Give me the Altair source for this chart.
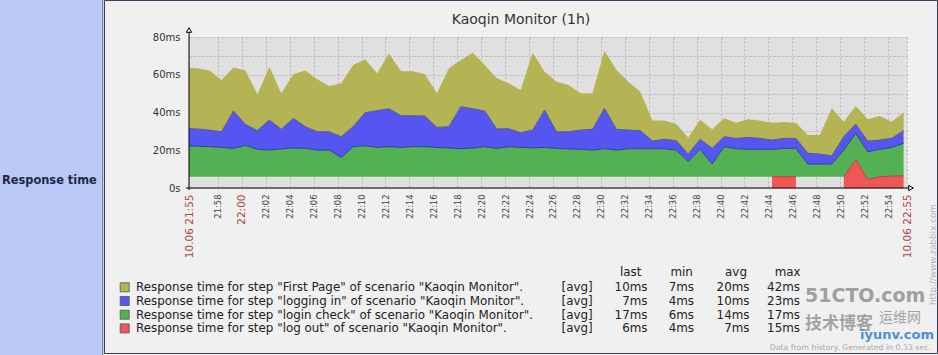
import altair as alt
import pandas as pd

# ---------------- data ----------------
start_time = "2013-10-06 21:55:18"   # first sample (one sample per minute)

first_page = [32.4, 32.1, 31.5, 27.4, 23.1, 28.5, 19.2, 28.3, 19.1, 23.3,
              29.7, 27.8, 24.2, 28.3, 32.7, 28.3, 19.8, 29.3, 23.5, 23.5,
              22.1, 18.1, 30.9, 24.7, 29.7, 24.4, 26.8, 24.1, 22.6, 41.0,
              20.3, 26.5, 24.8, 19.5, 19.1, 30.6, 31.4, 25.6, 20.6, 10.8,
              9.9, 8.8, 8.8, 10.2, 10.1, 9.7, 8.3, 9.6, 9.4, 9.2,
              8.7, 8.3, 9.7, 10.1, 25.2, 7.9, 9.5, 11.5, 12.7, 8.8, 9.5]
logging_in = [9.1, 9.2, 8.8, 8.3, 19.8, 11.1, 9.9, 15.9, 10.4, 15.7,
              11.5, 9.7, 9.7, 11.0, 10.6, 17.5, 19.5, 20.1, 16.8, 16.4,
              16.2, 10.6, 11.3, 22.3, 20.8, 18.9, 10.3, 9.5, 7.8, 9.5,
              19.8, 8.8, 9.1, 10.2, 11.0, 21.4, 11.0, 9.9, 9.6, 4.1,
              5.0, 5.0, 4.0, 5.3, 8.3, 5.3, 5.5, 6.3, 5.8, 4.9,
              5.3, 5.3, 5.7, 5.3, 4.3, 7.1, 4.9, 5.7, 4.9, 4.8, 6.7]
login_check = [16.3, 16.1, 15.9, 15.5, 15.0, 16.6, 14.5, 14.1, 14.7, 15.2,
               15.0, 14.1, 14.1, 10.2, 15.9, 16.4, 15.5, 15.9, 15.5, 15.9,
               15.9, 15.5, 15.2, 14.8, 15.2, 15.9, 15.0, 15.9, 15.5, 15.2,
               15.5, 15.0, 14.7, 14.5, 14.1, 14.8, 14.1, 14.8, 14.8, 14.8,
               14.8, 14.1, 8.0, 14.5, 6.7, 15.9, 14.8, 14.5, 14.5, 14.5,
               15.0, 15.0, 6.7, 6.7, 6.7, 14.1, 14.0, 14.7, 14.5, 15.2, 17.2]
log_out = [6.0, 6.0, 6.0, 6.0, 6.0, 6.0, 6.0, 6.0, 6.0, 6.0,
           6.0, 6.0, 6.0, 6.0, 6.0, 6.0, 6.0, 6.0, 6.0, 6.0,
           6.0, 6.0, 6.0, 6.0, 6.0, 6.0, 6.0, 6.0, 6.0, 6.0,
           6.0, 6.0, 6.0, 6.0, 6.0, 6.0, 6.0, 6.0, 6.0, 6.0,
           6.0, 6.0, 6.0, 6.0, 6.0, 6.0, 6.0, 6.0, 6.0, 6.0,
           6.0, 6.0, 6.0, 6.0, 6.0, 6.0, 15.0, 4.5, 6.0, 6.3, 6.5]
# sample index ranges where the "log out" series is actually drawn
log_out_shown = [(49, 51), (55, 60)]

tick_labels = ["21:58", "22:00", "22:02", "22:04", "22:06", "22:08", "22:10",
               "22:12", "22:14", "22:16", "22:18", "22:20", "22:22", "22:24",
               "22:26", "22:28", "22:30", "22:32", "22:34", "22:36", "22:38",
               "22:40", "22:42", "22:44", "22:46", "22:48", "22:50", "22:52",
               "22:54"]
y_ticks = [0, 10, 20, 30, 40, 50, 60, 70, 80]

legend_names = ['Response time for step "First Page" of scenario "Kaoqin Monitor".',
                'Response time for step "logging in" of scenario "Kaoqin Monitor".',
                'Response time for step "login check" of scenario "Kaoqin Monitor".',
                'Response time for step "log out" of scenario "Kaoqin Monitor".']
legend_func = ["[avg]", "[avg]", "[avg]", "[avg]"]
legend_last = ["10ms", "7ms", "17ms", "6ms"]
legend_min = ["7ms", "4ms", "6ms", "4ms"]
legend_avg = ["20ms", "10ms", "14ms", "7ms"]
legend_max = ["42ms", "23ms", "17ms", "15ms"]
series_colors = ["#b4b455", "#5555f2", "#53b153", "#ef5656"]

# ---------------- tables ----------------
times = pd.date_range(start_time, periods=len(first_page), freq="min")
df = pd.DataFrame({"t": times, "first": first_page, "login": logging_in,
                   "check": login_check, "out": log_out})
df["c_top"] = df["out"] + df["check"]
df["l_top"] = df["c_top"] + df["login"]
df["f_top"] = df["l_top"] + df["first"]

red_rows = []
for seg, (a, b) in enumerate(log_out_shown):
    for k in range(a, b + 1):
        red_rows.append({"t": times[k], "out": log_out[k], "seg": seg})
red = pd.DataFrame(red_rows)

leg = pd.DataFrame({"row": list(range(4)), "name": legend_names, "func": legend_func,
                    "last": legend_last, "min": legend_min, "avg": legend_avg,
                    "max": legend_max, "color": series_colors})

one = pd.DataFrame({"k": [0]})

FONT = "DejaVu Sans"


def dt(h, m, s=0):
    return alt.DateTime(year=2013, month=10, date=6, hours=h, minutes=m, seconds=s)


t0, t1 = dt(21, 55, 35), dt(22, 55, 35)
tick_vals = [t0] + [dt(int(s[:2]), int(s[3:])) for s in tick_labels] + [t1]
hl = "seconds(datum.value) > 0 || minutes(datum.value) == 0"
GRID = "#b6b6b6"

x_axis = alt.Axis(values=tick_vals, tickCount=100, title=None, grid=True, gridDash=[2, 2],
                  gridColor=GRID, domain=False, ticks=False, tickSize=0,
                  labelAngle=270, labelPadding=6, labelFont=FONT,
                  labelExpr="seconds(datum.value) > 0 ? timeFormat(datum.value, '%m.%d %H:%M') : timeFormat(datum.value, '%H:%M')",
                  labelFontSize={"condition": {"test": hl, "value": 10.5}, "value": 8.4},
                  labelColor={"condition": {"test": hl, "value": "#aa4444"}, "value": "#444444"},
                  labelOverlap=False, labelFlush=False)
y_axis = alt.Axis(values=y_ticks, tickCount=100, title=None, grid=True, gridDash=[2, 2],
                  gridColor=GRID, domain=False, ticks=False, tickSize=0,
                  labelPadding=9, labelFont=FONT, labelFontSize=10, labelColor="#333333",
                  labelExpr="datum.value == 0 ? '0s' : (datum.value % 20 == 0 ? datum.value + 'ms' : '')",
                  labelOverlap=False)

X = alt.X("t:T", scale=alt.Scale(domain=[t0, t1]), axis=x_axis)
Xs = alt.X("t:T")
ysc = alt.Scale(domain=[0, 80], nice=False)

# ---------------- decorations outside plot ----------------
panel = alt.Chart(one).mark_rect(color="#b9c8f7").encode(
    x=alt.value(-189), x2=alt.value(-88), y=alt.value(-37), y2=alt.value(318))
panel_edge = alt.Chart(one).mark_rule(color="#6f7db0", strokeWidth=1.5).encode(
    x=alt.value(-86.5), y=alt.value(-37), y2=alt.value(318))
box = alt.Chart(one).mark_rect(fill="transparent", stroke="#34405c", strokeWidth=1).encode(
    x=alt.value(-84.5), x2=alt.value(748.5), y=alt.value(-36.5), y2=alt.value(316.5))
side_label = alt.Chart(one).mark_text(text="Response time", font=FONT, fontWeight="bold",
                                      fontSize=11.4, color="#1d2944", align="left",
                                      baseline="middle").encode(x=alt.value(-187), y=alt.value(144))
title = alt.Chart(one).mark_text(text="Kaoqin Monitor (1h)", font=FONT, fontSize=14,
                                 color="#333333", align="center", baseline="middle").encode(
    x=alt.value(332), y=alt.value(-17))

# ---------------- stacked areas ----------------
a_first = alt.Chart(df).mark_area(color=series_colors[0], opacity=1, clip=True).encode(
    x=X, y=alt.Y("l_top:Q", scale=ysc, axis=y_axis), y2="f_top:Q")
a_login = alt.Chart(df).mark_area(color=series_colors[1], opacity=1, clip=True).encode(
    x=Xs, y="c_top:Q", y2="l_top:Q")
a_check = alt.Chart(df).mark_area(color=series_colors[2], opacity=1, clip=True).encode(
    x=Xs, y="out:Q", y2="c_top:Q")
a_out = alt.Chart(red).mark_area(color=series_colors[3], opacity=1, clip=True).encode(
    x=Xs, y=alt.Y("out:Q"), y2=alt.datum(0), detail="seg:N")

l_login = alt.Chart(df).mark_line(color="#5b5b93", strokeWidth=1, clip=True).encode(x=Xs, y="l_top:Q")
l_check = alt.Chart(df).mark_line(color="#2b3fa6", strokeWidth=1, clip=True).encode(x=Xs, y="c_top:Q")
l_out = alt.Chart(red).mark_line(color="#b84444", strokeWidth=1, clip=True).encode(
    x=Xs, y="out:Q", detail="seg:N")

# ---------------- axis lines and arrows ----------------
y_line = alt.Chart(one).mark_rule(color="#000000", strokeWidth=1).encode(
    x=alt.value(0), y=alt.value(-7), y2=alt.value(153))
x_line = alt.Chart(one).mark_rule(color="#000000", strokeWidth=1).encode(
    x=alt.value(-3), x2=alt.value(722), y=alt.value(151))
y_arrow = alt.Chart(one).mark_point(shape="triangle-up", filled=True, fill="#ffffff",
                                    stroke="#000000", strokeWidth=1, size=28, opacity=1).encode(
    x=alt.value(0), y=alt.value(-7))
x_arrow = alt.Chart(one).mark_point(shape="triangle-right", filled=True, fill="#ffffff",
                                    stroke="#000000", strokeWidth=1, size=28, opacity=1).encode(
    x=alt.value(722), y=alt.value(151))

# ---------------- legend table ----------------
ROW0, ROWH = 250.3, 13.7
lg = alt.Chart(leg).transform_calculate(py=f"{ROW0} + datum.row * {ROWH}")
ly = alt.Y("py:Q", scale=None, axis=None)
leg_sq = lg.mark_square(size=82, filled=True, stroke="#555555", strokeWidth=0.8, opacity=1).encode(
    x=alt.value(-64.3), y=ly, color=alt.Color("color:N", scale=None, legend=None))
leg_layers = [leg_sq]
cols = [("name", -53, "left"), ("func", 372.5, "left"), ("last", 458.5, "right"),
        ("min", 505, "right"), ("avg", 560.5, "right"), ("max", 611, "right")]
for field, px, al in cols:
    leg_layers.append(lg.mark_text(font=FONT, fontSize=11.9, color="#222222", align=al,
                                   baseline="middle").encode(x=alt.value(px), y=ly,
                                                             text=f"{field}:N"))
headers = [("last", 441.7), ("min", 492.7), ("avg", 547), ("max", 598.7)]
for txt, px in headers:
    leg_layers.append(alt.Chart(one).mark_text(text=txt, font=FONT, fontSize=11.9,
                                               color="#222222", align="center",
                                               baseline="middle").encode(
        x=alt.value(px), y=alt.value(234.7)))

footer = alt.Chart(one).mark_text(text="Data from history. Generated in 0.33 sec.", font=FONT,
                                  fontSize=7.8, color="#a8a8a8", align="right",
                                  baseline="middle").encode(x=alt.value(742), y=alt.value(311))
url = alt.Chart(one).mark_text(text="http://www.zabbix.com", font=FONT, fontSize=8.8,
                               color="#b4b4b4", align="left", baseline="middle",
                               angle=270).encode(x=alt.value(744), y=alt.value(268))

# watermark of the page the picture was taken from
wm = [
    alt.Chart(one).mark_text(text="51CTO.com", font=FONT, fontWeight="bold", fontSize=19,
                             color="#8c8c8c", opacity=0.8, align="left",
                             baseline="middle").encode(x=alt.value(616), y=alt.value(259)),
    alt.Chart(one).mark_text(text="技术博客", font="Noto Sans CJK SC", fontWeight="bold",
                             fontSize=17, color="#8a8a8a", opacity=0.75, align="left",
                             baseline="middle").encode(x=alt.value(616), y=alt.value(287)),
    alt.Chart(one).mark_text(text="运维网", font="Noto Sans CJK SC", fontSize=14,
                             color="#8a8a8a", opacity=0.75, align="left",
                             baseline="middle").encode(x=alt.value(690), y=alt.value(281)),
    alt.Chart(one).mark_text(text="iyunv.com", font=FONT, fontWeight="bold", fontSize=13,
                             color="#2f7fd6", opacity=0.85, align="center",
                             baseline="middle").encode(x=alt.value(708), y=alt.value(298)),
]

chart = alt.layer(
    a_first, a_login, a_check, a_out, l_login, l_check, l_out,
    panel, panel_edge, box, side_label, title,
    y_line, x_line, y_arrow, x_arrow,
    *leg_layers, footer, url, *wm
).properties(
    width=718, height=151,
    padding={"left": 189, "top": 37, "right": 31, "bottom": 167},
    autosize=alt.AutoSizeParams(type="none"),
    background="#f0f0f0",
).configure_view(fill="#e0e0e0", strokeWidth=0)

chart.save("out.html", embed_options={"renderer": "svg", "actions": False})
